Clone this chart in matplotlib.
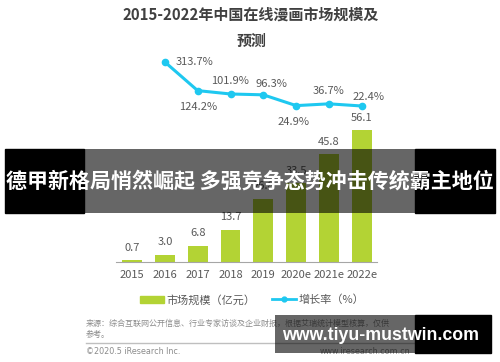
import numpy as np
import matplotlib
matplotlib.use('Agg')
import matplotlib.pyplot as plt
from matplotlib.patches import Rectangle
from matplotlib.lines import Line2D

plt.rcParams['font.family'] = ['Noto Sans CJK SC', 'DejaVu Sans']

# data
years = ['2015', '2016', '2017', '2018', '2019', '2020e', '2021e', '2022e']
market_size = [0.7, 3.0, 6.8, 13.7, 26.8, 33.5, 45.8, 56.1]   # 亿元
growth = [None, 313.7, 124.2, 101.9, 96.3, 24.9, 36.7, 22.4]  # %

green = '#b3d334'
cyan = '#1ec8f0'
txt = '#595959'

W, H = 500, 362


def fx(x):
    return x / W


def fy(y):
    return 1 - y / H


fig = plt.figure(figsize=(5, 3.62), dpi=100)
fig.patch.set_facecolor('white')

# main axes: baseline at y=262px, top at y=50px
ax = fig.add_axes([fx(115.6), fy(262), 261 / W, 212 / H])
x = np.arange(len(years))
ax.bar(x, market_size, width=0.6, color=green, zorder=2)
ax.set_xlim(-0.5, 7.45)
ax.set_ylim(0, 90.2)
for i, v in enumerate(market_size):
    ax.text(i, v + 3.2, f'{v:.1f}', ha='center', va='bottom', fontsize=8, color=txt)
ax.set_xticks(x)
ax.set_xticklabels(years, fontsize=8, color=txt)
ax.tick_params(axis='x', length=0, pad=6)
ax.set_yticks([])
for s in ['top', 'right', 'left']:
    ax.spines[s].set_visible(False)
ax.spines['bottom'].set_color('#a6a6a6')
ax.patch.set_alpha(0)

# growth line on a twin axis
ax2 = ax.twinx()
ax2.set_ylim(-1010.4, 393.1)
gx = [i for i, g in enumerate(growth) if g is not None]
gy = [g for g in growth if g is not None]
ax2.plot(gx, gy, color=cyan, lw=2.2, marker='o', ms=4.5, zorder=3)
ax2.set_yticks([])
for s in ['top', 'right', 'left', 'bottom']:
    ax2.spines[s].set_visible(False)

# label offsets (points) for each growth value
offsets = {1: (8, 0, 'left', 'center'), 2: (0, -8, 'center', 'top'),
           3: (0, 6, 'center', 'bottom'), 4: (6, 4, 'center', 'bottom'),
           5: (-2, -8, 'center', 'top'), 6: (0, 6, 'center', 'bottom'),
           7: (-7, 3, 'left', 'bottom')}
for i, g in zip(gx, gy):
    dx, dy, ha, va = offsets[i]
    ax2.annotate(f'{g}%', (i, g), xytext=(dx, dy), textcoords='offset points',
                 ha=ha, va=va, fontsize=8, color=txt)

# title
fig.text(fx(251), fy(15), '2015-2022年中国在线漫画市场规模及', ha='center', va='center',
         fontsize=10.8, fontweight='bold', color='#404040')
fig.text(fx(252), fy(41), '预测', ha='center', va='center',
         fontsize=10.8, fontweight='bold', color='#404040')

# legend
handles = [Rectangle((0, 0), 1, 1, color=green),
           Line2D([0], [0], color=cyan, lw=2, marker='o', ms=3.5)]
fig.legend(handles, ['市场规模（亿元）', '增长率（%）'], loc='center',
           bbox_to_anchor=(fx(252), fy(300)), ncol=2, frameon=False,
           fontsize=8, labelcolor=txt, handlelength=2.2, handleheight=0.7,
           columnspacing=1.5, handletextpad=0.2)

# source / footer
fig.text(fx(86), fy(323), '来源：综合互联网公开信息、行业专家访谈及企业财报，根据艾瑞统计模型核算，仅供',
         ha='left', va='center', fontsize=5.8, color='#8c8c8c')
fig.text(fx(86), fy(334), '参考。', ha='left', va='center', fontsize=5.8, color='#8c8c8c')
fig.add_artist(Line2D([fx(86), fx(415)], [fy(342.5), fy(342.5)], color='#bfbfbf', lw=1))
fig.text(fx(86), fy(352), '©2020.5 iResearch Inc.', ha='left', va='center',
         fontsize=5.8, color='#8c8c8c', family='DejaVu Sans')
fig.text(fx(410), fy(352), 'www.iresearch.com.cn', ha='right', va='center',
         fontsize=5.8, color='#8c8c8c', family='DejaVu Sans')

# overlay banner across the middle
fig.add_artist(Rectangle((fx(5), fy(213)), fx(79), 64 / H, color='black', zorder=10))
fig.add_artist(Rectangle((fx(415), fy(213)), fx(80), 64 / H, color='black', zorder=10))
fig.add_artist(Rectangle((fx(84), fy(213)), fx(331), 64 / H, color='black', alpha=0.6,
                         zorder=10, lw=0))
fig.text(fx(250), fy(181), '德甲新格局悄然崛起 多强竞争态势冲击传统霸主地位', ha='center',
         va='center', fontsize=15.1, fontweight='bold', color='white', zorder=11)

# watermark bottom right
fig.add_artist(Rectangle((fx(275), fy(353)), fx(140), 38 / H, color='black', alpha=0.6,
                         zorder=10, lw=0))
fig.add_artist(Rectangle((fx(415), fy(353)), fx(76), 38 / H, color='black', zorder=10))
fig.text(fx(381), fy(336), 'www.tiyu-mustwin.com', ha='center', va='center',
         fontsize=12.8, fontweight='bold', color='white', family='Liberation Sans', zorder=11)

fig.savefig('out.png', dpi=100)
